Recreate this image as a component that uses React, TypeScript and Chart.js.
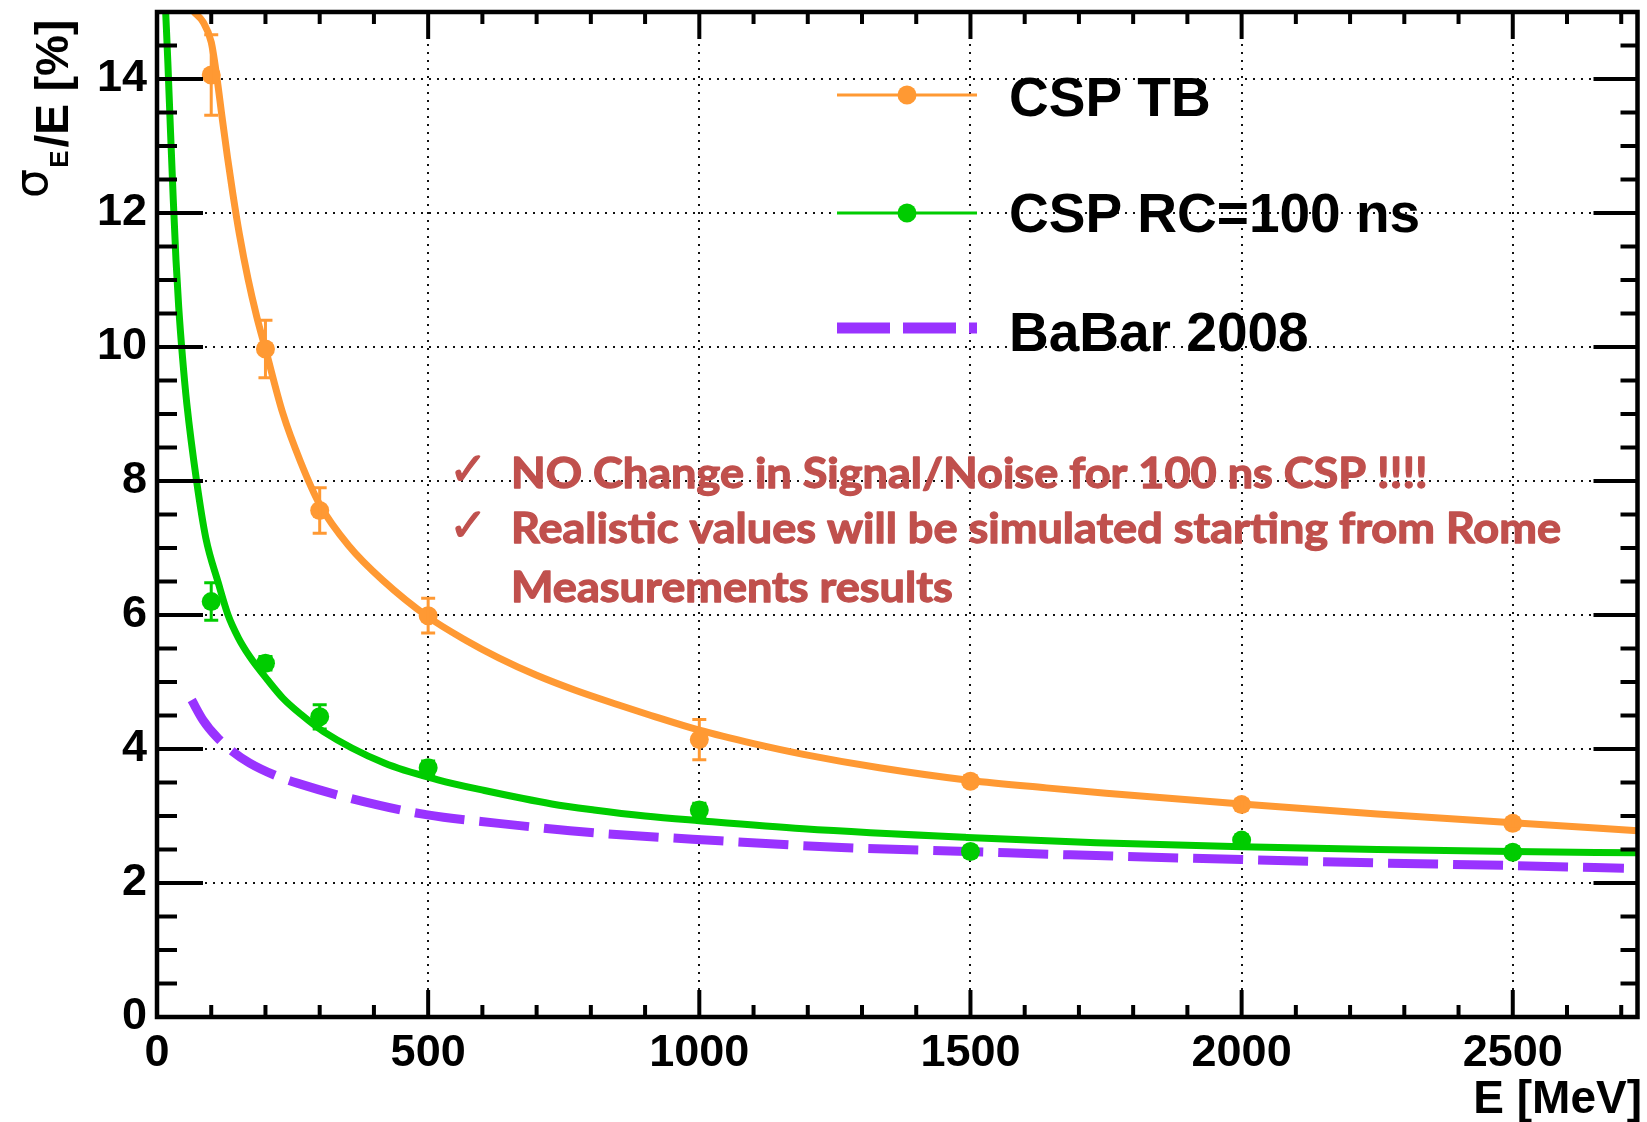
import { useEffect, useRef } from "react";
import { Chart, registerables } from "chart.js";

Chart.register(...registerables);

// ---------------- data ----------------
const energies = [100, 200, 300, 500, 1000, 1500, 2000, 2500];

const cspTbValues = [14.06, 9.97, 7.56, 5.99, 4.14, 3.52, 3.17, 2.89];
const cspTbErrors = [0.6, 0.43, 0.34, 0.26, 0.3, 0.08, 0.08, 0.08];

const cspRcValues = [6.2, 5.28, 4.48, 3.72, 3.09, 2.47, 2.64, 2.46];
const cspRcErrors = [0.28, 0.1, 0.18, 0.1, 0.1, 0.08, 0.08, 0.08];

const cspTbFitE = [68, 85, 100, 110, 120, 130, 140, 152, 168, 184, 200, 232, 265, 300, 354, 416, 500, 570, 630, 700, 770, 850, 911, 1000, 1100, 1192, 1332, 1500, 1640, 1750, 2000, 2250, 2500, 2730];
const cspTbFitV = [15.0, 14.85, 14.55, 14.05, 13.43, 12.83, 12.28, 11.68, 11.01, 10.45, 9.97, 9.01, 8.28, 7.65, 7.03, 6.52, 5.97, 5.62, 5.36, 5.1, 4.88, 4.66, 4.5, 4.28, 4.08, 3.92, 3.72, 3.53, 3.42, 3.34, 3.18, 3.03, 2.9, 2.78];

const cspRcFitE = [16, 20, 25, 30, 35, 40, 47, 55, 73, 90, 113, 131, 150, 171, 204, 232, 265, 307, 419, 518, 604, 728, 806, 900, 1000, 1192, 1494, 1732, 2000, 2250, 2500, 2730];
const cspRcFitV = [15.0, 14.25, 13.2, 12.2, 11.3, 10.6, 9.85, 9.15, 8.0, 7.15, 6.48, 6.0, 5.66, 5.38, 5.03, 4.76, 4.52, 4.26, 3.79, 3.54, 3.38, 3.18, 3.09, 3.0, 2.93, 2.81, 2.68, 2.6, 2.54, 2.5, 2.47, 2.45];

const babarE = [64, 85, 110, 140, 171, 220, 263, 354, 496, 630, 806, 1038, 1262, 1494, 1684, 2000, 2250, 2500, 2705];
const babarV = [4.73, 4.43, 4.18, 3.96, 3.79, 3.6, 3.48, 3.27, 3.02, 2.89, 2.75, 2.63, 2.53, 2.47, 2.42, 2.35, 2.3, 2.26, 2.22];

const xTicks = [0, 500, 1000, 1500, 2000, 2500];
const yTicks = [0, 2, 4, 6, 8, 10, 12, 14];
const X_MAX = 2730;
const Y_MAX = 15;

const seriesNames = ["CSP TB", "CSP RC=100 ns", "BaBar 2008"];
const xTitle = "E [MeV]";
const noteLines = [
  "NO Change in Signal/Noise for 100 ns CSP !!!!",
  "Realistic values will be simulated starting from Rome",
  "Measurements results",
];

// ---------------- styles ----------------
const ORANGE = "#FF9933";
const GREEN = "#00CC00";
const PURPLE = "#9933FF";
const RED = "#C0504D";
const FONT = '"Liberation Sans", Arial, Helvetica, sans-serif';

const pts = (xs: number[], ys: number[]) => xs.map((x, i) => ({ x, y: ys[i] }));

function line(ctx: CanvasRenderingContext2D, x1: number, y1: number, x2: number, y2: number) {
  ctx.beginPath();
  ctx.moveTo(x1, y1);
  ctx.lineTo(x2, y2);
  ctx.stroke();
}

const rootStylePlugin = {
  id: "rootStyle",
  beforeDatasetsDraw(chart: any) {
    const { ctx, chartArea: ca, scales } = chart;
    const x = scales.x;
    const y = scales.y;
    ctx.save();
    ctx.strokeStyle = "#111";
    ctx.lineWidth = 2;
    ctx.setLineDash([2, 6]);
    for (const v of xTicks) {
      if (v === 0) continue;
      const px = Math.round(x.getPixelForValue(v));
      line(ctx, px, ca.top, px, ca.bottom);
    }
    for (const v of yTicks) {
      if (v === 0) continue;
      const py = Math.round(y.getPixelForValue(v));
      line(ctx, ca.left, py, ca.right, py);
    }
    ctx.restore();
  },
  afterDatasetsDraw(chart: any) {
    const { ctx, chartArea: ca, scales } = chart;
    const x = scales.x;
    const y = scales.y;
    ctx.save();
    ctx.beginPath();
    ctx.rect(ca.left, ca.top, ca.right - ca.left, ca.bottom - ca.top);
    ctx.clip();
    const drawErr = (vals: number[], errs: number[], color: string) => {
      ctx.strokeStyle = color;
      ctx.lineWidth = 3;
      energies.forEach((e, i) => {
        const px = x.getPixelForValue(e);
        const top = y.getPixelForValue(vals[i] + errs[i]);
        const bot = y.getPixelForValue(vals[i] - errs[i]);
        line(ctx, px, top, px, bot);
        line(ctx, px - 7, top, px + 7, top);
        line(ctx, px - 7, bot, px + 7, bot);
      });
    };
    drawErr(cspTbValues, cspTbErrors, ORANGE);
    drawErr(cspRcValues, cspRcErrors, GREEN);
    ctx.restore();
  },
  afterDraw(chart: any) {
    const { ctx, chartArea: ca, scales } = chart;
    const x = scales.x;
    const y = scales.y;
    ctx.save();

    // ticks inside the frame (all four sides)
    ctx.strokeStyle = "#000";
    ctx.lineWidth = 4;
    ctx.lineCap = "butt";
    for (let v = 0; v <= X_MAX; v += 100) {
      const px = x.getPixelForValue(v);
      const major = v % 500 === 0;
      const len = major ? 27 : 12;
      line(ctx, px, ca.bottom, px, ca.bottom - len);
      line(ctx, px, ca.top, px, ca.top + len);
    }
    for (let v = 0; v <= Y_MAX; v += 0.5) {
      const py = y.getPixelForValue(v);
      const major = v % 2 === 0;
      line(ctx, ca.left, py, ca.left + (major ? 46 : 20), py);
      line(ctx, ca.right, py, ca.right - (major ? 44 : 17), py);
    }
    // frame
    ctx.lineWidth = 4.5;
    ctx.strokeRect(ca.left, ca.top, ca.right - ca.left, ca.bottom - ca.top);

    // legend
    const lx1 = 837;
    const lx2 = 977;
    const lmx = 907;
    const textX = 1009;
    ctx.font = `bold 55px ${FONT}`;
    ctx.fillStyle = "#000";
    ctx.textAlign = "left";
    ctx.textBaseline = "alphabetic";
    // CSP TB
    ctx.strokeStyle = ORANGE;
    ctx.lineWidth = 3;
    line(ctx, lx1, 95, lx2, 95);
    ctx.fillStyle = ORANGE;
    ctx.beginPath();
    ctx.arc(lmx, 95, 9.5, 0, Math.PI * 2);
    ctx.fill();
    ctx.fillStyle = "#000";
    ctx.fillText(seriesNames[0], textX, 116);
    // CSP RC
    ctx.strokeStyle = GREEN;
    line(ctx, lx1, 213, lx2, 213);
    ctx.fillStyle = GREEN;
    ctx.beginPath();
    ctx.arc(lmx, 213, 9.5, 0, Math.PI * 2);
    ctx.fill();
    ctx.fillStyle = "#000";
    ctx.fillText(seriesNames[1], textX, 232);
    // BaBar
    ctx.strokeStyle = PURPLE;
    ctx.lineWidth = 11;
    ctx.setLineDash([53, 13]);
    line(ctx, lx1, 328, lx2, 328);
    ctx.setLineDash([]);
    ctx.fillText(seriesNames[2], textX, 351);

    // x title
    ctx.font = `bold 46px ${FONT}`;
    ctx.textAlign = "right";
    ctx.fillText(xTitle, 1642, 1113);

    // y title (rotated)
    ctx.save();
    ctx.translate(68, 198);
    ctx.rotate(-Math.PI / 2);
    ctx.textAlign = "left";
    ctx.font = `46px "DejaVu Sans", sans-serif`;
    ctx.fillText("σ", 0, -21);
    let tx = ctx.measureText("σ").width + 1;
    ctx.font = `bold 26px ${FONT}`;
    ctx.fillText("E", tx, 0);
    tx += ctx.measureText("E").width + 3;
    ctx.font = `bold 46px ${FONT}`;
    ctx.fillText("/E [%]", tx, 0);
    ctx.restore();

    // red notes
    ctx.fillStyle = RED;
    ctx.strokeStyle = RED;
    ctx.textAlign = "left";
    ctx.font = `bold 46px "DejaVu Sans", sans-serif`;
    ctx.lineWidth = 1.2;
    ctx.fillText("✓", 449, 485);
    ctx.strokeText("✓", 449, 485);
    ctx.fillText("✓", 449, 541);
    ctx.strokeText("✓", 449, 541);
    ctx.font = `bold 42px Lato, "Open Sans", sans-serif`;
    const w2 = ctx.measureText(noteLines[1]).width;
    const sx = 1050 / w2;
    const baselines = [488, 543, 602];
    ctx.lineWidth = 1.3;
    ctx.lineJoin = "round";
    noteLines.forEach((t, i) => {
      ctx.save();
      ctx.translate(511, baselines[i]);
      ctx.scale(sx, 1);
      ctx.fillText(t, 0, 0);
      ctx.strokeText(t, 0, 0);
      ctx.restore();
    });

    ctx.restore();
  },
};

export default function App() {
  const ref = useRef<HTMLCanvasElement | null>(null);

  useEffect(() => {
    const canvas = ref.current;
    if (!canvas) return;
    const tickFont = { family: FONT, size: 45, weight: "bold" as const };
    const chart = new Chart(canvas, {
      type: "scatter",
      data: {
        datasets: [
          {
            label: seriesNames[0] + " points",
            data: pts(energies, cspTbValues),
            showLine: false,
            pointRadius: 9.5,
            pointBackgroundColor: ORANGE,
            pointBorderColor: ORANGE,
            pointBorderWidth: 0,
            order: 0,
          },
          {
            label: seriesNames[1] + " points",
            data: pts(energies, cspRcValues),
            showLine: false,
            pointRadius: 9.5,
            pointBackgroundColor: GREEN,
            pointBorderColor: GREEN,
            pointBorderWidth: 0,
            order: 0,
          },
          {
            label: seriesNames[0],
            data: pts(cspTbFitE, cspTbFitV),
            showLine: true,
            pointRadius: 0,
            borderColor: ORANGE,
            borderWidth: 7,
            cubicInterpolationMode: "monotone",
            clip: 0,
            order: 1,
          },
          {
            label: seriesNames[1],
            data: pts(cspRcFitE, cspRcFitV),
            showLine: true,
            pointRadius: 0,
            borderColor: GREEN,
            borderWidth: 7,
            cubicInterpolationMode: "monotone",
            clip: 0,
            order: 2,
          },
          {
            label: seriesNames[2],
            data: pts(babarE, babarV),
            showLine: true,
            pointRadius: 0,
            borderColor: PURPLE,
            borderWidth: 9,
            borderDash: [50, 15],
            borderCapStyle: "butt",
            cubicInterpolationMode: "monotone",
            clip: 0,
            order: 3,
          },
        ],
      } as any,
      options: {
        responsive: false,
        animation: false,
        devicePixelRatio: 1,
        layout: { padding: { left: 0, right: 9, top: 12, bottom: 0 } },
        plugins: {
          legend: { display: false },
          tooltip: { enabled: false },
        },
        scales: {
          x: {
            type: "linear",
            min: 0,
            max: X_MAX,
            grid: { display: false, drawTicks: false },
            border: { display: false },
            ticks: {
              font: tickFont,
              color: "#000",
              padding: 10,
              autoSkip: false,
              maxRotation: 0,
              callback: (v: any) => String(v),
            },
            afterBuildTicks: (s: any) => {
              s.ticks = xTicks.map((v) => ({ value: v }));
            },
            afterFit: (s: any) => {
              s.height = 105;
              s.paddingLeft = 0;
              s.paddingRight = 0;
            },
          },
          y: {
            type: "linear",
            min: 0,
            max: Y_MAX,
            grid: { display: false, drawTicks: false },
            border: { display: false },
            ticks: {
              font: tickFont,
              color: "#000",
              padding: 10,
              autoSkip: false,
              callback: (v: any) => String(v),
            },
            afterBuildTicks: (s: any) => {
              s.ticks = yTicks.map((v) => ({ value: v }));
            },
            afterFit: (s: any) => {
              s.width = 157;
              s.paddingTop = 0;
              s.paddingBottom = 0;
            },
          },
        },
      } as any,
      plugins: [rootStylePlugin],
    });
    return () => chart.destroy();
  }, []);

  return (
    <div style={{ position: "fixed", left: 0, top: 0, width: 1647, height: 1122, background: "#fff" }}>
      <canvas ref={ref} width={1647} height={1122} style={{ display: "block", width: 1647, height: 1122 }} />
    </div>
  );
}
